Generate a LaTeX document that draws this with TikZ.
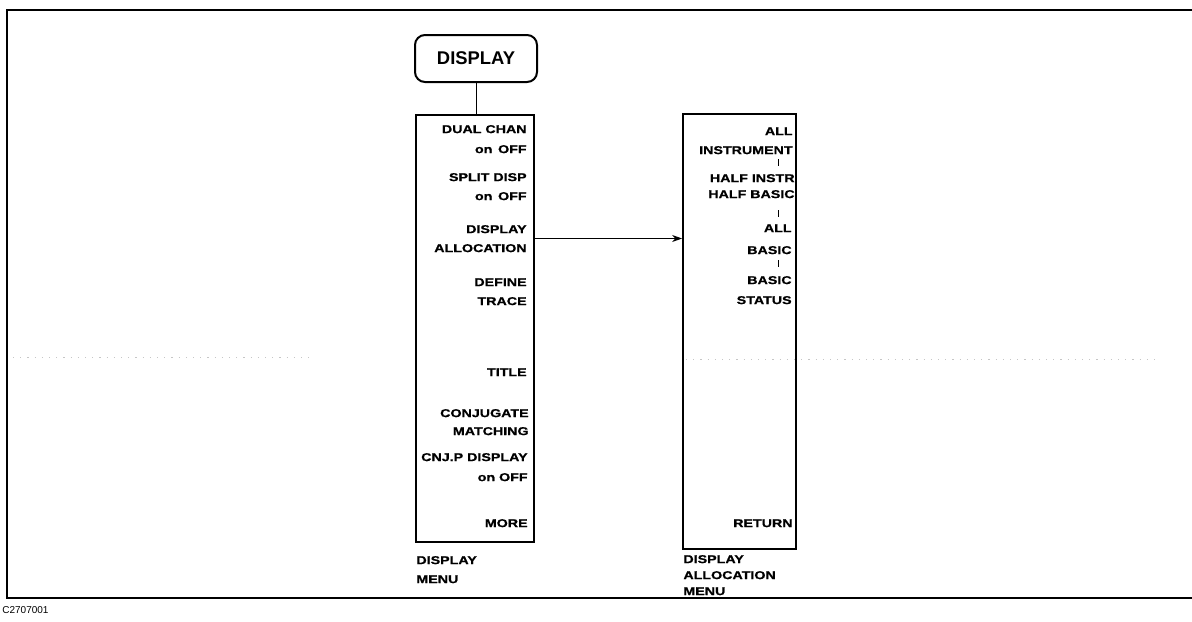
\documentclass[tikz,border=0pt]{standalone}
\usepackage{fontspec}
\setmainfont{Liberation Sans}
\newfontfamily\menufont[FakeStretch=1.25, BoldFeatures={FakeBold=0.8}]{Liberation Sans}
\usetikzlibrary{calc,arrows.meta}
\tikzset{
  box/.style={draw, line width=0.9pt, inner sep=0pt},
  keyl/.style={font=\menufont\bfseries\fontsize{5.7pt}{6pt}\selectfont, anchor=east, inner sep=0pt, text height=4.1pt, text depth=0pt},
  capl/.style={font=\menufont\bfseries\fontsize{5.7pt}{6pt}\selectfont, anchor=west, inner sep=0pt, text height=4.1pt, text depth=0pt},
  tick/.style={line width=0.4pt},
  artefact/.style={gray!45, line width=0.4pt, dash pattern=on 0.6pt off 3pt}
}
\begin{document}
\begin{tikzpicture}[x=0.5pt,y=-0.5pt]
\useasboundingbox (0,0) rectangle (1192,621);
% frame
\draw[line width=1pt] (1195,10) -- (7,10) -- (7,598) -- (1195,598);
\node[font=\fontsize{5pt}{6pt}\selectfont, anchor=west, inner sep=0pt] (code) at (2,610) {C2707001};
% faint scan dots
\draw[artefact] (13,357) -- (313,357);
\draw[artefact] (686,359) -- (1160,359);
% top key
\node[box, line width=1pt, rounded corners=5pt, minimum width=61pt, minimum height=23.5pt,
      font=\bfseries\fontsize{9.2pt}{10pt}\selectfont] (disp) at (476,58.5) {DISPLAY};
% left menu box
\node[box, minimum width=59pt, minimum height=213.5pt] (lbox) at (475,328.5) {};
\draw[line width=0.5pt] (disp.south) -- (disp.south |- lbox.north);
\node[keyl] (l1) at (527,129) {DUAL CHAN};
\node[keyl] (l2) at (527,149) {on\enspace OFF};
\node[keyl] (l3) at (527,177) {SPLIT DISP};
\node[keyl] (l4) at (527,196) {on\enspace OFF};
\node[keyl] (l5) at (527,229) {DISPLAY};
\node[keyl] (l6) at (527,248) {ALLOCATION};
\node[keyl] (l7) at (527,282) {DEFINE};
\node[keyl] (l8) at (527,301) {TRACE};
\node[keyl] (l9) at (527,372) {TITLE};
\node[keyl] (l10) at (529,413) {CONJUGATE};
\node[keyl] (l11) at (529,431) {MATCHING};
\node[keyl] (l12) at (528,457) {CNJ.P DISPLAY};
\node[keyl] (l13) at (528,477) {on OFF};
\node[keyl] (l14) at (528,523) {MORE};
\node[capl] (lc1) at (416,560) {DISPLAY};
\node[capl] (lc2) at (416,579) {MENU};
% right menu box
\node[box, minimum width=56.5pt, minimum height=217.5pt] (rbox) at (739.5,331.5) {};
\node[keyl] (r1) at (793,131) {ALL};
\node[keyl] (r2) at (793,150) {INSTRUMENT};
\node[keyl] (r3) at (795,178) {HALF INSTR};
\node[keyl] (r4) at (795,194) {HALF BASIC};
\node[keyl] (r5) at (792,228) {ALL};
\node[keyl] (r6) at (792,250) {BASIC};
\node[keyl] (r7) at (792,280) {BASIC};
\node[keyl] (r8) at (792,300) {STATUS};
\node[keyl] (r9) at (793,523) {RETURN};
\node[capl] (rc1) at (683,559) {DISPLAY};
\node[capl] (rc2) at (683,575) {ALLOCATION};
\node[capl] (rc3) at (683,591) {MENU};
% separators
\draw[tick] (778,159) -- (778,166);
\draw[tick] (778,210) -- (778,217);
\draw[tick] (778,260) -- (778,267);
% connector
\coordinate (amid) at ($(l5.east)!0.5!(l6.east)$);
\draw[line width=0.6pt, -{Stealth[length=5pt,width=3.5pt]}] (amid -| lbox.east) -- (amid -| rbox.west);
\end{tikzpicture}
\end{document}
